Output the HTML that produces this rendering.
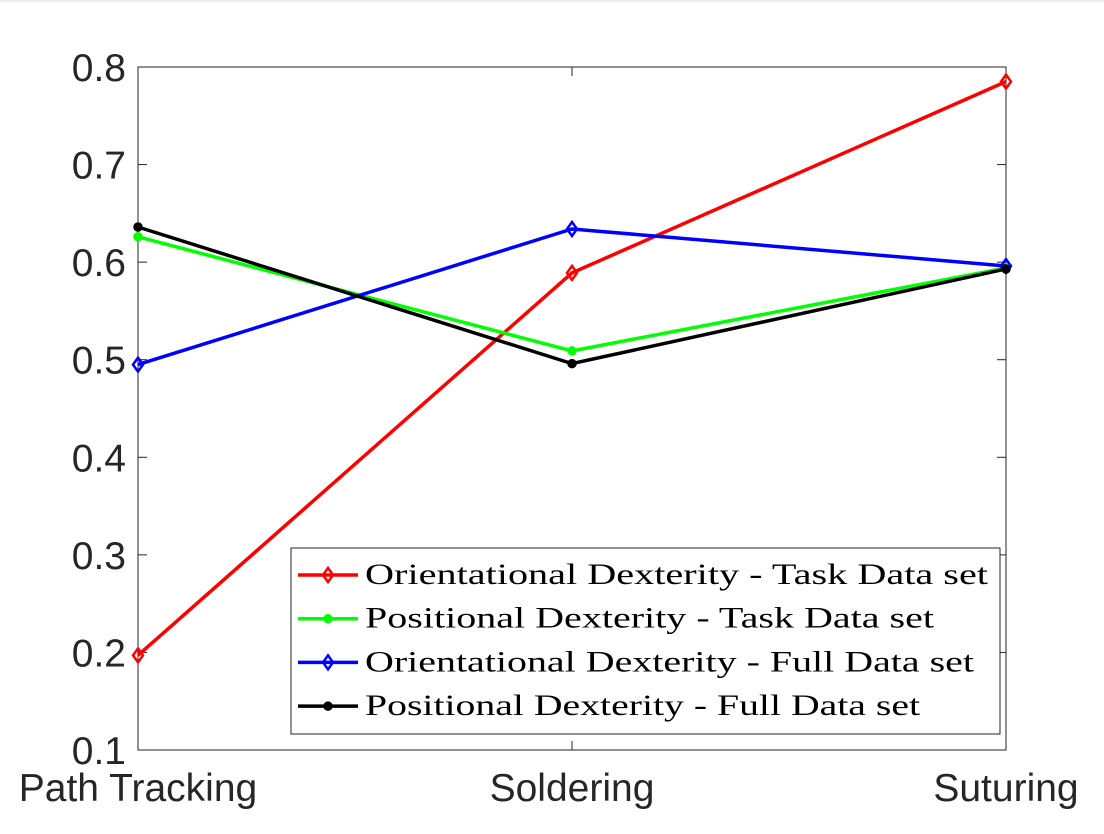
<!DOCTYPE html>
<html><head><meta charset="utf-8"><style>
html,body{margin:0;padding:0;background:#fff;}
svg{display:block;}
</style></head><body>
<svg id="chart" width="1104" height="834" xmlns="http://www.w3.org/2000/svg"></svg>
<script>
const categories = ["Path Tracking","Soldering","Suturing"];
const yTicks = [0.1,0.2,0.3,0.4,0.5,0.6,0.7,0.8];
const seriesNames = ["Orientational Dexterity - Task Data set","Positional Dexterity - Task Data set","Orientational Dexterity - Full Data set","Positional Dexterity - Full Data set"];
const orientTask = [0.197,0.589,0.785];
const posTask = [0.626,0.509,0.594];
const orientFull = [0.495,0.634,0.596];
const posFull = [0.636,0.496,0.593];
const colors = ["#ff0000","#00ff00","#0000ff","#000000"];
const markers = ["diamond","dot","diamond","dot"];
const allSeries = [orientTask,posTask,orientFull,posFull];
const legendTextWidths = [623,569,609,555];

const NS="http://www.w3.org/2000/svg";
const svg=document.getElementById('chart');
const L=138,R=1006,T=67,B=750;
const xs=i=>L+(R-L)*i/(categories.length-1);
const ys=v=>B-(v-0.1)/(0.8-0.1)*(B-T);
function mk(tag,attrs,parent){const e=document.createElementNS(NS,tag);for(const k in attrs)e.setAttribute(k,attrs[k]);(parent||svg).appendChild(e);return e;}

const topLine=mk('line',{x1:0,y1:1,x2:1104,y2:1,stroke:'#ddd','stroke-width':1});


const frame=mk('rect',{x:L,y:T,width:R-L,height:B-T,fill:'none',stroke:'#262626','stroke-width':1});



yTicks.forEach(t=>{
  const y=ys(t);
  const g=mk('g',{});
  
  
  mk('line',{x1:L,y1:y,x2:L+9,y2:y,stroke:'#262626'},g);
  mk('line',{x1:R,y1:y,x2:R-9,y2:y,stroke:'#262626'},g);
  const tx=mk('text',{x:L-12,y:y+14,'text-anchor':'end','font-family':'Liberation Sans, sans-serif','font-size':39,fill:'#262626'},g);
  tx.textContent=t.toFixed(1);
});
categories.forEach((c,i)=>{
  const x=xs(i);
  const g=mk('g',{});
  
  
  mk('line',{x1:x,y1:B,x2:x,y2:B-9,stroke:'#262626'},g);
  mk('line',{x1:x,y1:T,x2:x,y2:T+9,stroke:'#262626'},g);
  const tx=mk('text',{x:x,y:801,'text-anchor':'middle','font-family':'Liberation Sans, sans-serif','font-size':39,fill:'#262626'},g);
  tx.textContent=c;
});
function marker(g,x,y,type,col){
  if(type==='diamond') mk('polygon',{points:`${x},${y-7} ${x+5},${y} ${x},${y+7} ${x-5},${y}`,fill:'none',stroke:col,'stroke-width':2.5},g);
  else mk('circle',{cx:x,cy:y,r:4,fill:col,stroke:col,'stroke-width':1.5},g);
}
allSeries.forEach((s,k)=>{
  const g=mk('g',{});
  
  
  mk('polyline',{points:s.map((v,i)=>xs(i)+','+ys(v)).join(' '),fill:'none',stroke:colors[k],'stroke-width':3.5},g);
  s.forEach((v,i)=>marker(g,xs(i),ys(v),markers[k],colors[k]));
});
const lg=mk('g',{});


mk('rect',{x:291,y:548,width:709,height:186,fill:'#fff',stroke:'#262626','stroke-width':1},lg);
seriesNames.forEach((n,k)=>{
  const y=575+k*43.7;
  const e=mk('g',{},lg);
  
  
  mk('line',{x1:298,y1:y,x2:358,y2:y,stroke:colors[k],'stroke-width':3.5},e);
  marker(e,328,y,markers[k],colors[k]);
  const t=mk('text',{x:365,y:y+9,'font-family':'Liberation Serif, serif','font-size':30,fill:'#000',textLength:legendTextWidths[k],lengthAdjust:'spacingAndGlyphs'},e);
  t.textContent=n;
});
</script>
</body></html>
